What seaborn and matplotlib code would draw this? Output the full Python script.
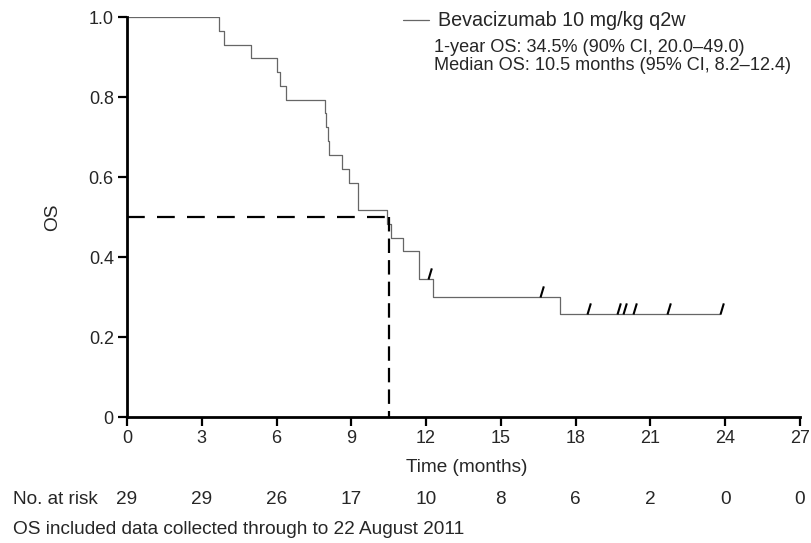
import numpy as np
import pandas as pd
import matplotlib
matplotlib.use("Agg")
import matplotlib.pyplot as plt
import matplotlib.transforms as mtransforms
from matplotlib.path import Path
import seaborn as sns

# Kaplan-Meier steps
step_times = [0, 3.69, 3.89, 4.97, 6.02, 6.14, 6.38, 7.95, 8.0, 8.05, 8.1,
              8.62, 8.9, 9.27, 10.43, 10.6, 11.07, 11.71, 12.27, 17.37, 23.8]
step_os = [1.0, 0.966, 0.931, 0.897, 0.862, 0.828, 0.793, 0.759, 0.724, 0.690, 0.655,
           0.621, 0.586, 0.517, 0.483, 0.448, 0.414, 0.345, 0.30, 0.258, 0.258]

censor_times = [12.07, 16.57, 18.45, 19.65, 19.9, 20.3, 21.66, 23.8]
censor_os = [0.345, 0.30, 0.258, 0.258, 0.258, 0.258, 0.258, 0.258]

median_os = 10.5
risk_times = [0, 3, 6, 9, 12, 15, 18, 21, 24, 27]
n_at_risk = [29, 29, 26, 17, 10, 8, 6, 2, 0, 0]

x_ticks = list(range(0, 28, 3))
y_ticks = [0, 0.2, 0.4, 0.6, 0.8, 1.0]
y_ticklabels = ["0", "0.2", "0.4", "0.6", "0.8", "1.0"]

sns.set_style("ticks")
plt.rcParams["font.family"] = ["Liberation Sans", "DejaVu Sans"]
FS = 13.7

fig = plt.figure(figsize=(8.11, 5.43), dpi=100)
ax = fig.add_axes([127 / 811, 1 - 417 / 543, 673 / 811, 400 / 543])

km = pd.DataFrame({"time": step_times, "os": step_os})
sns.lineplot(data=km, x="time", y="os", drawstyle="steps-post", estimator=None,
             color="#666666", linewidth=0.9, label="Bevacizumab 10 mg/kg q2w", ax=ax)

# censoring ticks
slash = Path([(0, 0), (0.3, 1)])
ax.plot(censor_times, censor_os, linestyle="none", marker=slash, markersize=16,
        markeredgewidth=1.5, color="black")

# median lines
ax.plot([0, median_os], [0.5, 0.5], color="black", lw=1.6, dashes=(8, 5.5))
ax.plot([median_os, median_os], [0.5, 0], color="black", lw=1.6, dashes=(6.5, 3.2))

ax.set_xlim(0, 27)
ax.set_ylim(0, 1.0)
ax.set_xticks(x_ticks)
ax.set_yticks(y_ticks)
ax.set_yticklabels(y_ticklabels)
ax.tick_params(length=6.5, width=1.6, labelsize=13, color="black", pad=3)
for side in ["left", "bottom"]:
    ax.spines[side].set_linewidth(2)
    ax.spines[side].set_color("black")
sns.despine(ax=ax)
ax.set_xlabel("Time (months)", fontsize=FS)
ax.set_ylabel("OS", fontsize=FS)
ax.xaxis.set_label_coords((467 - 127) / 673, -0.105)
ax.yaxis.set_label_coords((61 - 127) / 673, 0.5)

ax.get_legend().remove()
handles, labels = ax.get_legend_handles_labels()
fig.legend(handles[:1], labels[:1], loc="center left", bbox_to_anchor=(403 / 811, 1 - 21 / 543),
           frameon=False, borderpad=0, borderaxespad=0, handlelength=1.3,
           handletextpad=0.5, fontsize=14.2)
fig.text(434 / 811, 1 - 47 / 543, "1-year OS: 34.5% (90% CI, 20.0\u201349.0)",
         fontsize=13.1, va="center", ha="left")
fig.text(434 / 811, 1 - 66 / 543, "Median OS: 10.5 months (95% CI, 8.2\u201312.4)",
         fontsize=13.1, va="center", ha="left")

# number at risk row
tr = mtransforms.blended_transform_factory(ax.transData, fig.transFigure)
fig.text(13 / 811, 1 - 499 / 543, "No. at risk", fontsize=FS, va="center", ha="left")
for t, n in zip(risk_times, n_at_risk):
    ax.text(t, 1 - 499 / 543, str(n), transform=tr, ha="center", va="center", fontsize=FS)

fig.text(13 / 811, 1 - 530 / 543, "OS included data collected through to 22 August 2011",
         fontsize=FS, va="center", ha="left")

fig.savefig("out.png", dpi=100)
